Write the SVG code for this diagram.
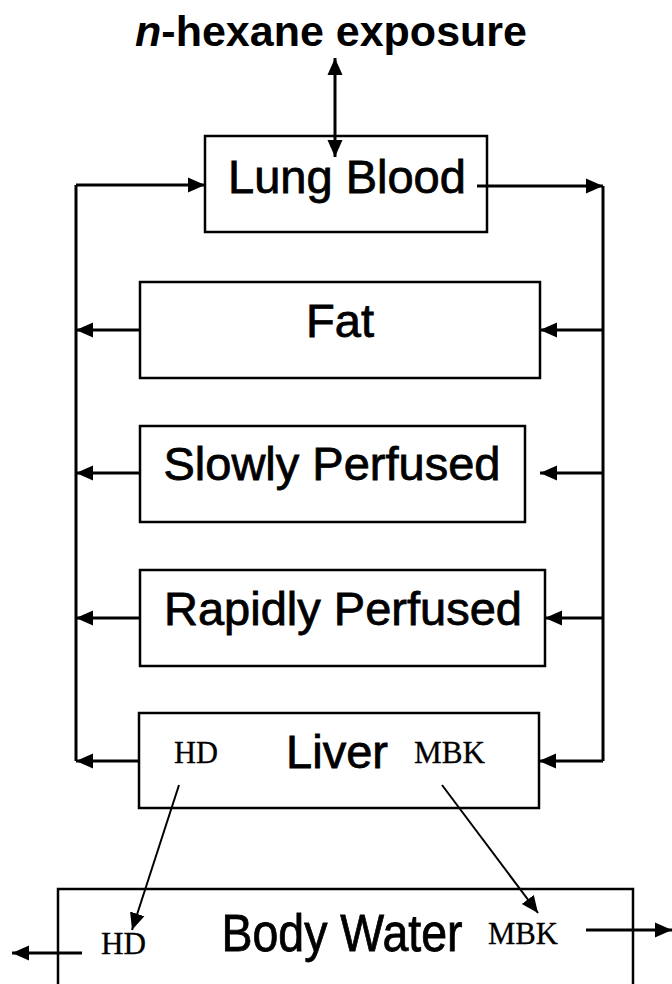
<svg xmlns="http://www.w3.org/2000/svg" width="672" height="984" viewBox="0 0 672 984">
  <style>
    .box { fill: #ffffff; stroke: #000000; stroke-width: 2.5; }
    .lbl { font-family: "Liberation Sans", Arial, sans-serif; font-size: 47px; fill: #000000; stroke: #000000; stroke-width: 0.8; text-anchor: middle; }
    .sp  { font-family: "Liberation Serif", "Times New Roman", serif; font-size: 31px; fill: #000000; stroke: #000000; stroke-width: 0.3; }
    .ttl { font-family: "Liberation Sans", Arial, sans-serif; font-size: 43px; font-weight: bold; fill: #000000; }
    .ln  { fill: none; stroke: #000000; stroke-width: 3; }
    .ar  { fill: none; stroke: #000000; stroke-width: 3; marker-end: url(#head); }
    .dg  { fill: none; stroke: #000000; stroke-width: 2; marker-end: url(#head); }
  </style>
  <defs>
    <marker id="head" markerUnits="userSpaceOnUse" markerWidth="18" markerHeight="18" refX="17" refY="9" orient="auto-start-reverse">
      <path d="M0,1.5 L17,9 L0,16.5 z" fill="#000000"/>
    </marker>
  </defs>

  <rect width="672" height="984" fill="#ffffff"/>

  <!-- title -->
  <text id="title" class="ttl" x="331" y="46" text-anchor="middle"><tspan font-style="italic">n</tspan>-hexane exposure</text>

  <!-- compartments -->
  <g id="lung">
    <rect class="box" x="205" y="136" width="282" height="96"/>
    <text class="lbl" x="347" y="193">Lung Blood</text>
  </g>
  <g id="fat">
    <rect class="box" x="140" y="282" width="400" height="96"/>
    <text class="lbl" x="340" y="337">Fat</text>
  </g>
  <g id="slowly">
    <rect class="box" x="140" y="426" width="385" height="96"/>
    <text class="lbl" x="332" y="480">Slowly Perfused</text>
  </g>
  <g id="rapidly">
    <rect class="box" x="140" y="570" width="405" height="96"/>
    <text class="lbl" x="343" y="625">Rapidly Perfused</text>
  </g>
  <g id="liver">
    <rect class="box" x="139" y="713" width="400" height="95"/>
    <text class="lbl" x="337" y="768">Liver</text>
    <text class="sp" x="174" y="763" textLength="44" lengthAdjust="spacingAndGlyphs">HD</text>
    <text class="sp" x="414" y="763" textLength="71" lengthAdjust="spacingAndGlyphs">MBK</text>
  </g>
  <g id="bodywater">
    <rect class="box" x="58" y="889" width="575" height="120"/>
    <text class="lbl" x="342" y="951" style="font-size:51px" textLength="241" lengthAdjust="spacingAndGlyphs">Body Water</text>
    <text class="sp" x="101" y="954" textLength="45" lengthAdjust="spacingAndGlyphs">HD</text>
    <text class="sp" x="488" y="944" textLength="70" lengthAdjust="spacingAndGlyphs">MBK</text>
  </g>

  <!-- connectors -->
  <g id="connectors">
    <!-- exchange with exposure -->
    <path class="ar" d="M335,157 L335,58" style="marker-start:url(#head)"/>
    <!-- venous return (left) and arterial supply (right) -->
    <path class="ln" d="M76,761 L76,185"/>
    <path class="ar" d="M76,185 L205,185"/>
    <path class="ar" d="M477,186 L603,186"/>
    <path class="ln" d="M603,186 L603,761"/>
    <!-- outflows to venous line -->
    <path class="ar" d="M140,330 L76,330"/>
    <path class="ar" d="M140,473 L76,473"/>
    <path class="ar" d="M140,618 L76,618"/>
    <path class="ar" d="M139,761 L76,761"/>
    <!-- inflows from arterial line -->
    <path class="ar" d="M603,330 L540,330"/>
    <path class="ar" d="M603,473 L540,473"/>
    <path class="ar" d="M603,618 L545,618"/>
    <path class="ar" d="M603,761 L539,761"/>
    <!-- metabolites to body water -->
    <path class="dg" d="M179,785 L132,930"/>
    <path class="dg" d="M442,785 L538,913"/>
    <!-- elimination -->
    <path class="ar" d="M82,953 L12,953"/>
    <path class="ar" d="M586,930 L672,930"/>
  </g>
</svg>
